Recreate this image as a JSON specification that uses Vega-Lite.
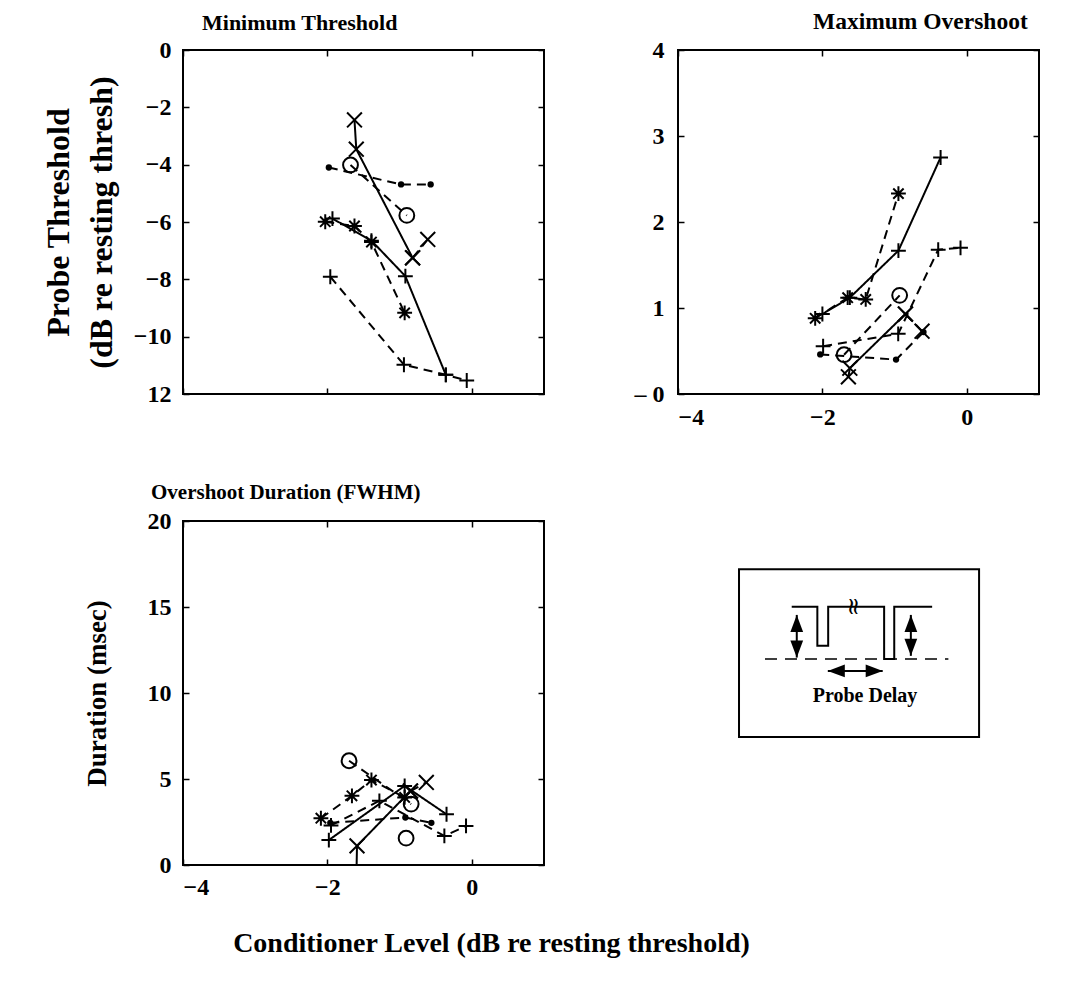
{
  "$schema": "https://vega.github.io/schema/vega-lite/v6.json",
  "background": "white",
  "padding": {"left": 40, "top": 8, "right": 5, "bottom": 5},
  "config": {
    "font": "Liberation Serif",
    "view": {"stroke": "black", "strokeWidth": 2},
    "axis": {"grid": false, "domain": false, "ticks": true, "tickColor": "black", "tickSize": -6, "tickWidth": 1.5,
      "labelFont": "Liberation Serif", "labelFontWeight": "bold", "labelFontSize": 24, "labelColor": "black",
      "titleFont": "Liberation Serif", "titleFontWeight": "bold", "titleColor": "black"},
    "title": {"font": "Liberation Serif", "fontWeight": "bold", "fontSize": 22, "color": "black"}
  },
  "datasets": {
    "pts": [
      {"p": 1, "s": "xs", "k": 0, "x": -1.625, "y": -2.44},
      {"p": 1, "s": "xs", "k": 1, "x": -1.6, "y": -3.46},
      {"p": 1, "s": "xs", "k": 2, "x": -0.82, "y": -7.25},
      {"p": 1, "s": "xd", "k": 0, "x": -0.82, "y": -7.25},
      {"p": 1, "s": "xd", "k": 1, "x": -0.61, "y": -6.61},
      {"p": 1, "s": "dot", "k": 0, "x": -1.98, "y": -4.1},
      {"p": 1, "s": "dot", "k": 1, "x": -0.98, "y": -4.69},
      {"p": 1, "s": "dot", "k": 2, "x": -0.57, "y": -4.69},
      {"p": 1, "s": "o", "k": 0, "x": -1.68, "y": -4.01},
      {"p": 1, "s": "o", "k": 1, "x": -0.9, "y": -5.77},
      {"p": 1, "s": "star", "k": 0, "x": -2.03, "y": -5.99},
      {"p": 1, "s": "star", "k": 1, "x": -1.625, "y": -6.14},
      {"p": 1, "s": "star", "k": 2, "x": -1.39, "y": -6.7},
      {"p": 1, "s": "star", "k": 3, "x": -0.93, "y": -9.17},
      {"p": 1, "s": "ps", "k": 0, "x": -1.93, "y": -5.88},
      {"p": 1, "s": "ps", "k": 1, "x": -1.39, "y": -6.65},
      {"p": 1, "s": "ps", "k": 2, "x": -0.92, "y": -7.89},
      {"p": 1, "s": "ps", "k": 3, "x": -0.36, "y": -11.33},
      {"p": 1, "s": "pd", "k": 0, "x": -1.96, "y": -7.91},
      {"p": 1, "s": "pd", "k": 1, "x": -0.94, "y": -10.98},
      {"p": 1, "s": "pd", "k": 2, "x": -0.36, "y": -11.33},
      {"p": 1, "s": "pd", "k": 3, "x": -0.07, "y": -11.53},

      {"p": 2, "s": "xs", "k": 0, "x": -1.64, "y": 0.2},
      {"p": 2, "s": "xs", "k": 1, "x": -1.62, "y": 0.3},
      {"p": 2, "s": "xs", "k": 2, "x": -0.85, "y": 0.93},
      {"p": 2, "s": "xd", "k": 0, "x": -0.85, "y": 0.93},
      {"p": 2, "s": "xd", "k": 1, "x": -0.62, "y": 0.73},
      {"p": 2, "s": "dot", "k": 0, "x": -2.03, "y": 0.46},
      {"p": 2, "s": "dot", "k": 1, "x": -0.98, "y": 0.4},
      {"p": 2, "s": "dot", "k": 2, "x": -0.6, "y": 0.72},
      {"p": 2, "s": "o", "k": 0, "x": -1.7, "y": 0.457},
      {"p": 2, "s": "o", "k": 1, "x": -0.93, "y": 1.147},
      {"p": 2, "s": "star", "k": 0, "x": -2.1, "y": 0.88},
      {"p": 2, "s": "star", "k": 1, "x": -1.65, "y": 1.12},
      {"p": 2, "s": "star", "k": 2, "x": -1.4, "y": 1.1},
      {"p": 2, "s": "star", "k": 3, "x": -0.947, "y": 2.33},
      {"p": 2, "s": "ps", "k": 0, "x": -2.0, "y": 0.93},
      {"p": 2, "s": "ps", "k": 1, "x": -1.62, "y": 1.12},
      {"p": 2, "s": "ps", "k": 2, "x": -0.947, "y": 1.667},
      {"p": 2, "s": "ps", "k": 3, "x": -0.363, "y": 2.75},
      {"p": 2, "s": "pd", "k": 0, "x": -1.99, "y": 0.555},
      {"p": 2, "s": "pd", "k": 1, "x": -0.95, "y": 0.7},
      {"p": 2, "s": "pd", "k": 2, "x": -0.396, "y": 1.678},
      {"p": 2, "s": "pd", "k": 3, "x": -0.087, "y": 1.7},

      {"p": 3, "s": "xs", "k": 0, "x": -1.6, "y": -1},
      {"p": 3, "s": "xs", "k": 1, "x": -1.59, "y": 1.11},
      {"p": 3, "s": "xs", "k": 2, "x": -0.85, "y": 4.3},
      {"p": 3, "s": "xd", "k": 0, "x": -0.85, "y": 4.3},
      {"p": 3, "s": "xd", "k": 1, "x": -0.63, "y": 4.8},
      {"p": 3, "s": "dot", "k": 0, "x": -1.96, "y": 2.45},
      {"p": 3, "s": "dot", "k": 1, "x": -0.92, "y": 2.76},
      {"p": 3, "s": "dot", "k": 2, "x": -0.56, "y": 2.45},
      {"p": 3, "s": "o", "k": 0, "x": -1.7, "y": 6.06},
      {"p": 3, "s": "o", "k": 1, "x": -0.84, "y": 3.54},
      {"p": 3, "s": "o3", "k": 0, "x": -0.91, "y": 1.56},
      {"p": 3, "s": "star", "k": 0, "x": -2.09, "y": 2.72},
      {"p": 3, "s": "star", "k": 1, "x": -1.66, "y": 4.02},
      {"p": 3, "s": "star", "k": 2, "x": -1.39, "y": 4.94},
      {"p": 3, "s": "star", "k": 3, "x": -0.93, "y": 3.93},
      {"p": 3, "s": "ps", "k": 0, "x": -1.98, "y": 1.45},
      {"p": 3, "s": "ps", "k": 1, "x": -0.93, "y": 4.6},
      {"p": 3, "s": "ps", "k": 2, "x": -0.35, "y": 2.95},
      {"p": 3, "s": "pd", "k": 0, "x": -1.95, "y": 2.3},
      {"p": 3, "s": "pd", "k": 1, "x": -1.28, "y": 3.73},
      {"p": 3, "s": "pd", "k": 2, "x": -0.38, "y": 1.69},
      {"p": 3, "s": "pd", "k": 3, "x": -0.08, "y": 2.27}
    ],
    "box": [{"x": 16.9, "x2": 83.4, "y": 37.2, "y2": 86.0}],
    "pulse": [
      {"k": 0, "x": 31.5, "y": 75.1}, {"k": 1, "x": 38.6, "y": 75.1}, {"k": 2, "x": 38.6, "y": 63.7},
      {"k": 3, "x": 41.6, "y": 63.7}, {"k": 4, "x": 41.6, "y": 75.1}, {"k": 5, "x": 57.1, "y": 75.1},
      {"k": 6, "x": 57.1, "y": 59.9}, {"k": 7, "x": 59.9, "y": 59.9}, {"k": 8, "x": 59.9, "y": 75.1},
      {"k": 9, "x": 70.4, "y": 75.1}
    ],
    "baseline": [{"x": 24.1, "x2": 74.9, "y": 59.9}],
    "varrows": [{"x": 32.9, "y": 60.3, "y2": 72.7}, {"x": 64.5, "y": 60.8, "y2": 72.7}],
    "harrow": [{"x": 41.5, "x2": 56.7, "y": 56.4}],
    "heads": [
      {"x": 32.9, "y": 70.2, "h": "up"}, {"x": 32.9, "y": 62.8, "h": "down"},
      {"x": 64.5, "y": 70.2, "h": "up"}, {"x": 64.5, "y": 63.3, "h": "down"},
      {"x": 43.85, "y": 56.4, "h": "left"}, {"x": 54.35, "y": 56.4, "h": "right"}
    ],
    "labels": [{"x": 51.8, "y": 47.5, "t": "Probe Delay"}],
    "brk": [{"x": 48.4, "y": 75.1, "t": "≈"}]
  },
  "bounds": "flush",
  "columns": 2,
  "spacing": {"row": 127, "column": 134},
  "resolve": {"scale": {"shape": "independent", "strokeDash": "independent"}},
  "concat": [
    {
      "width": 361, "height": 344,
      "title": {"text": "Minimum Threshold", "anchor": "start", "frame": "group", "dx": 19, "offset": -14, "baseline": "alphabetic", "fontSize": 22},
      "data": {"name": "pts"},
      "transform": [{"filter": "datum.p == 1"}],
      "layer": [
        {
          "mark": {"type": "line", "clip": true, "color": "black", "strokeWidth": 2},
          "encoding": {
            "x": {"field": "x", "type": "quantitative", "scale": {"domain": [-4, 1], "nice": false, "zero": false},
              "axis": {"values": [-4, -2, 0], "labels": false, "title": null}},
            "y": {"field": "y", "type": "quantitative", "scale": {"domain": [-12, 0], "nice": false, "zero": false},
              "axis": {"values": [-12, -10, -8, -6, -4, -2, 0], "labelPadding": 18,
                "labelExpr": "datum.value == -12 ? '12' : datum.label",
                "title": ["Probe Threshold", "(dB re resting thresh)"], "titleFontSize": 32, "titleX": -115,
                "titleBaseline": "alphabetic", "titleLineHeight": 43}},
            "detail": {"field": "s"},
            "order": {"field": "k"},
            "strokeDash": {"field": "s", "type": "nominal", "legend": null,
              "scale": {"domain": ["xs", "xd", "dot", "o", "o3", "star", "ps", "pd"],
                "range": [[1, 0], [9, 6], [9, 6], [9, 6], [9, 6], [9, 6], [1, 0], [9, 6]]}}
          }
        },
        {
          "transform": [{"filter": "datum.s != 'dot'"}],
          "mark": {"type": "point", "filled": false, "stroke": "black", "strokeWidth": 2, "size": 220, "opacity": 1},
          "encoding": {
            "x": {"field": "x", "type": "quantitative", "axis": null},
            "y": {"field": "y", "type": "quantitative", "axis": null},
            "shape": {"field": "s", "type": "nominal", "legend": null,
              "scale": {"domain": ["xs", "xd", "o", "o3", "star", "ps", "pd"],
                "range": ["M-1,-1L1,1M-1,1L1,-1", "M-1,-1L1,1M-1,1L1,-1", "circle", "circle",
                  "M-1,0L1,0M0,-1L0,1M-0.7,-0.7L0.7,0.7M-0.7,0.7L0.7,-0.7", "M-1,0L1,0M0,-1L0,1", "M-1,0L1,0M0,-1L0,1"]}}
          }
        },
        {
          "transform": [{"filter": "datum.s == 'dot'"}],
          "mark": {"type": "circle", "color": "black", "size": 40, "opacity": 1},
          "encoding": {
            "x": {"field": "x", "type": "quantitative", "axis": null},
            "y": {"field": "y", "type": "quantitative", "axis": null}
          }
        },
        {
          "mark": {"type": "point", "opacity": 0},
          "encoding": {
            "x": {"field": "x", "type": "quantitative", "axis": {"orient": "top", "values": [-4, -2, 0], "labels": false, "title": null}},
            "y": {"field": "y", "type": "quantitative", "axis": {"orient": "right", "values": [-12, -10, -8, -6, -4, -2, 0], "labels": false, "title": null}}
          }
        }
      ],
      "resolve": {"axis": {"x": "independent", "y": "independent"}}
    },
    {
      "width": 361, "height": 344,
      "title": {"text": "Maximum Overshoot", "anchor": "start", "frame": "group", "dx": 135, "offset": -14, "baseline": "alphabetic", "fontSize": 23.5},
      "data": {"name": "pts"},
      "transform": [{"filter": "datum.p == 2"}],
      "layer": [
        {
          "mark": {"type": "line", "clip": true, "color": "black", "strokeWidth": 2},
          "encoding": {
            "x": {"field": "x", "type": "quantitative", "scale": {"domain": [-4, 1], "nice": false, "zero": false},
              "axis": {"values": [-4, -2, 0], "labelPadding": 17, "title": null}},
            "y": {"field": "y", "type": "quantitative", "scale": {"domain": [0, 4], "nice": false, "zero": false},
              "axis": {"values": [0, 1, 2, 3, 4], "labelPadding": 20,
                "labelExpr": "datum.value == 0 ? '–    0' : datum.label", "title": null}},
            "detail": {"field": "s"},
            "order": {"field": "k"},
            "strokeDash": {"field": "s", "type": "nominal", "legend": null,
              "scale": {"domain": ["xs", "xd", "dot", "o", "o3", "star", "ps", "pd"],
                "range": [[1, 0], [9, 6], [9, 6], [9, 6], [9, 6], [9, 6], [1, 0], [9, 6]]}}
          }
        },
        {
          "transform": [{"filter": "datum.s != 'dot'"}],
          "mark": {"type": "point", "filled": false, "stroke": "black", "strokeWidth": 2, "size": 220, "opacity": 1},
          "encoding": {
            "x": {"field": "x", "type": "quantitative", "axis": null},
            "y": {"field": "y", "type": "quantitative", "axis": null},
            "shape": {"field": "s", "type": "nominal", "legend": null,
              "scale": {"domain": ["xs", "xd", "o", "o3", "star", "ps", "pd"],
                "range": ["M-1,-1L1,1M-1,1L1,-1", "M-1,-1L1,1M-1,1L1,-1", "circle", "circle",
                  "M-1,0L1,0M0,-1L0,1M-0.7,-0.7L0.7,0.7M-0.7,0.7L0.7,-0.7", "M-1,0L1,0M0,-1L0,1", "M-1,0L1,0M0,-1L0,1"]}}
          }
        },
        {
          "transform": [{"filter": "datum.s == 'dot'"}],
          "mark": {"type": "circle", "color": "black", "size": 40, "opacity": 1},
          "encoding": {
            "x": {"field": "x", "type": "quantitative", "axis": null},
            "y": {"field": "y", "type": "quantitative", "axis": null}
          }
        },
        {
          "mark": {"type": "point", "opacity": 0},
          "encoding": {
            "x": {"field": "x", "type": "quantitative", "axis": {"orient": "top", "values": [-4, -2, 0], "labels": false, "title": null}},
            "y": {"field": "y", "type": "quantitative", "axis": {"orient": "right", "values": [0, 1, 2, 3, 4], "labels": false, "title": null}}
          }
        }
      ],
      "resolve": {"axis": {"x": "independent", "y": "independent"}}
    },
    {
      "width": 361, "height": 344,
      "title": {"text": "Overshoot Duration (FWHM)", "anchor": "start", "frame": "group", "dx": -32, "offset": -11, "baseline": "alphabetic", "fontSize": 21},
      "data": {"name": "pts"},
      "transform": [{"filter": "datum.p == 3"}],
      "layer": [
        {
          "mark": {"type": "line", "clip": true, "color": "black", "strokeWidth": 2},
          "encoding": {
            "x": {"field": "x", "type": "quantitative", "scale": {"domain": [-4, 1], "nice": false, "zero": false},
              "axis": {"values": [-4, -2, 0], "labelPadding": 16,
                "title": "Conditioner Level (dB re resting threshold)", "titleFontSize": 28,
                "titleX": 308, "titleY": 86, "titleBaseline": "alphabetic"}},
            "y": {"field": "y", "type": "quantitative", "scale": {"domain": [0, 20], "nice": false, "zero": false},
              "axis": {"values": [0, 5, 10, 15, 20], "labelPadding": 18,
                "title": "Duration (msec)", "titleFontSize": 27, "titleX": -78, "titleBaseline": "alphabetic"}},
            "detail": {"field": "s"},
            "order": {"field": "k"},
            "strokeDash": {"field": "s", "type": "nominal", "legend": null,
              "scale": {"domain": ["xs", "xd", "dot", "o", "o3", "star", "ps", "pd"],
                "range": [[1, 0], [9, 6], [9, 6], [9, 6], [9, 6], [9, 6], [1, 0], [9, 6]]}}
          }
        },
        {
          "transform": [{"filter": "datum.s != 'dot' && datum.y >= 0"}],
          "mark": {"type": "point", "filled": false, "stroke": "black", "strokeWidth": 2, "size": 220, "opacity": 1},
          "encoding": {
            "x": {"field": "x", "type": "quantitative", "axis": null},
            "y": {"field": "y", "type": "quantitative", "axis": null},
            "shape": {"field": "s", "type": "nominal", "legend": null,
              "scale": {"domain": ["xs", "xd", "o", "o3", "star", "ps", "pd"],
                "range": ["M-1,-1L1,1M-1,1L1,-1", "M-1,-1L1,1M-1,1L1,-1", "circle", "circle",
                  "M-1,0L1,0M0,-1L0,1M-0.7,-0.7L0.7,0.7M-0.7,0.7L0.7,-0.7", "M-1,0L1,0M0,-1L0,1", "M-1,0L1,0M0,-1L0,1"]}}
          }
        },
        {
          "transform": [{"filter": "datum.s == 'dot'"}],
          "mark": {"type": "circle", "color": "black", "size": 40, "opacity": 1},
          "encoding": {
            "x": {"field": "x", "type": "quantitative", "axis": null},
            "y": {"field": "y", "type": "quantitative", "axis": null}
          }
        },
        {
          "mark": {"type": "point", "opacity": 0},
          "encoding": {
            "x": {"field": "x", "type": "quantitative", "axis": {"orient": "top", "values": [-4, -2, 0], "labels": false, "title": null}},
            "y": {"field": "y", "type": "quantitative", "axis": {"orient": "right", "values": [0, 5, 10, 15, 20], "labels": false, "title": null}}
          }
        }
      ],
      "resolve": {"axis": {"x": "independent", "y": "independent"}}
    },
    {
      "width": 361, "height": 344,
      "view": {"stroke": null},
      "layer": [
        {
          "data": {"name": "box"},
          "mark": {"type": "rect", "fill": null, "stroke": "black", "strokeWidth": 2},
          "encoding": {
            "x": {"field": "x", "type": "quantitative", "scale": {"domain": [0, 100], "nice": false, "zero": false}, "axis": null},
            "x2": {"field": "x2"},
            "y": {"field": "y", "type": "quantitative", "scale": {"domain": [0, 100], "nice": false, "zero": false}, "axis": null},
            "y2": {"field": "y2"}
          }
        },
        {
          "data": {"name": "pulse"},
          "mark": {"type": "line", "color": "black", "strokeWidth": 2},
          "encoding": {
            "x": {"field": "x", "type": "quantitative", "axis": null},
            "y": {"field": "y", "type": "quantitative", "axis": null},
            "order": {"field": "k"}
          }
        },
        {
          "data": {"name": "baseline"},
          "mark": {"type": "rule", "color": "black", "strokeWidth": 1.5, "strokeDash": [12, 8]},
          "encoding": {
            "x": {"field": "x", "type": "quantitative", "axis": null},
            "x2": {"field": "x2"},
            "y": {"field": "y", "type": "quantitative", "axis": null}
          }
        },
        {
          "data": {"name": "varrows"},
          "mark": {"type": "rule", "color": "black", "strokeWidth": 2},
          "encoding": {
            "x": {"field": "x", "type": "quantitative", "axis": null},
            "y": {"field": "y", "type": "quantitative", "axis": null},
            "y2": {"field": "y2"}
          }
        },
        {
          "data": {"name": "harrow"},
          "mark": {"type": "rule", "color": "black", "strokeWidth": 2},
          "encoding": {
            "x": {"field": "x", "type": "quantitative", "axis": null},
            "x2": {"field": "x2"},
            "y": {"field": "y", "type": "quantitative", "axis": null}
          }
        },
        {
          "data": {"name": "heads"},
          "mark": {"type": "point", "filled": true, "color": "black", "size": 289, "opacity": 1, "strokeWidth": 0},
          "encoding": {
            "x": {"field": "x", "type": "quantitative", "axis": null},
            "y": {"field": "y", "type": "quantitative", "axis": null},
            "shape": {"field": "h", "type": "nominal", "legend": null,
              "scale": {"domain": ["up", "down", "left", "right"],
                "range": ["M0,-1L0.75,1L-0.75,1Z", "M0,1L0.75,-1L-0.75,-1Z", "M-1,0L1,-0.75L1,0.75Z", "M1,0L-1,-0.75L-1,0.75Z"]}}
          }
        },
        {
          "data": {"name": "brk"},
          "mark": {"type": "text", "fontSize": 24, "angle": 90, "color": "black", "font": "DejaVu Serif"},
          "encoding": {
            "x": {"field": "x", "type": "quantitative", "axis": null},
            "y": {"field": "y", "type": "quantitative", "axis": null},
            "text": {"field": "t"}
          }
        },
        {
          "data": {"name": "labels"},
          "mark": {"type": "text", "fontSize": 20, "fontWeight": "bold", "color": "black", "font": "Liberation Serif", "baseline": "alphabetic"},
          "encoding": {
            "x": {"field": "x", "type": "quantitative", "axis": null},
            "y": {"field": "y", "type": "quantitative", "axis": null},
            "text": {"field": "t"}
          }
        }
      ]
    }
  ]
}
